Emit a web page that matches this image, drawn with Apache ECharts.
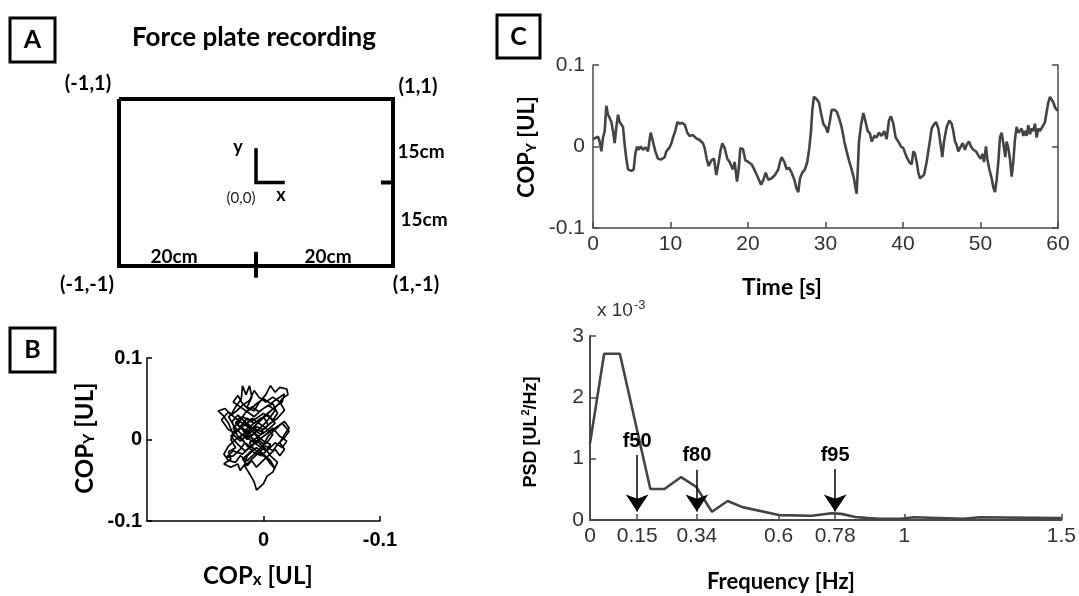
<!DOCTYPE html>
<html><head><meta charset="utf-8">
<script src="https://cdn.jsdelivr.net/npm/echarts@6/dist/echarts.min.js"></script>
<style>html,body{margin:0;padding:0;background:#fff}#c{width:1079px;height:596px}</style>
</head><body><div id="c"></div>
<script>
// ---------- Panel A: force plate diagram (normalised plate units) ----------
const plateX = [-1, 1, 1, -1, -1];
const plateY = [1, 1, -1, -1, 1];
const plateTickRightX = [0.912, 1.08];
const plateTickRightY = [0, 0];
const plateTickBottomX = [0, 0];
const plateTickBottomY = [-0.83, -1.14];
const originAxesX = [0, 0, 0.21];
const originAxesY = [0.41, 0, 0];

// ---------- Panel B: COP trajectory ----------
const copX = [0.010,0.015,0.008,0.018,0.022,0.012,0.020,0.026,0.030,0.035,
  0.039,0.033,0.028,0.024,0.019,0.018,0.015,0.012,0.010,0.014,
  0.008,0.004,-0.002,-0.006,-0.010,-0.014,-0.020,-0.021,-0.016,-0.012,
  -0.006,0.000,-0.004,0.002,0.010,0.016,0.022,0.027,0.024,0.028,
  0.024,0.030,0.028,0.034,0.028,0.022,0.020,0.016,0.014,0.008,
  0.012,0.006,0.000,-0.004,-0.010,-0.016,-0.022,-0.018,-0.012,-0.008,
  -0.002,0.004,0.010,0.016,0.012,0.008,0.006,0.000,-0.003,-0.008,
  -0.012,-0.006,-0.002,0.004,0.010,0.016,0.020,0.014,0.008,0.002,
  -0.004,-0.008,-0.012,-0.008,-0.002,0.004,0.010,0.016,0.020,0.026,
  0.022,0.016,0.020,0.026,0.032,0.026,0.018,0.012,0.006,-0.002,
  -0.008,-0.014,-0.020,-0.016,-0.010,-0.004,0.002,0.008,0.014,0.018,
  0.012,0.006,0.000,-0.006,-0.012,-0.018,-0.014,-0.008,-0.002,0.004,
  0.008,0.012,0.018,0.024,0.030,0.026,0.020,0.014,0.008,0.004,
  0.010,0.016,0.022,0.028,0.022,0.016,0.010,0.004,-0.002,-0.008,
  -0.004,0.002,0.008,0.014,0.020,0.024,0.030,0.034,0.030,0.024,
  0.018,0.012,0.006,0.000,-0.006,-0.010,-0.004,0.002,0.008,0.014,
  0.020,0.026,0.022,0.018,0.012,0.006,0.000,-0.006,-0.012,-0.018,
  -0.016,-0.010,-0.004,0.002,0.008,0.014,0.020,0.016,0.010,0.004,
  -0.002,-0.006,-0.010,-0.006,0.000,0.006,0.012,0.018,0.014,0.010,
  0.006,0.002,-0.004,-0.010,-0.014,-0.018,-0.014,-0.018,-0.022,-0.018,
  -0.012,-0.006,0.000,0.006,0.012,0.018,0.024,0.020,0.014,0.008,
  0.002,-0.004,-0.010,-0.006,0.000,0.006,0.012,0.018,0.024,0.030,
  0.036,0.030,0.024,0.018,0.012,0.006,0.000,-0.006,-0.002,0.004,
  0.010,0.016,0.010,0.004,0.000];
const copY = [0.005,0.012,0.020,0.028,0.018,0.008,-0.002,0.006,0.020,0.030,
  0.035,0.038,0.030,0.040,0.050,0.066,0.055,0.066,0.052,0.040,
  0.035,0.045,0.055,0.066,0.058,0.064,0.062,0.055,0.050,0.042,
  0.035,0.028,0.018,0.010,0.015,0.022,0.030,0.022,0.010,0.000,
  -0.010,-0.015,-0.024,-0.030,-0.034,-0.030,-0.038,-0.030,-0.020,-0.012,
  -0.004,0.002,-0.006,0.004,0.012,0.020,0.010,0.002,-0.006,-0.014,
  -0.008,-0.016,-0.024,-0.033,-0.042,-0.052,-0.062,-0.054,-0.045,-0.040,
  -0.028,-0.020,-0.012,-0.004,0.002,0.008,0.016,0.026,0.020,0.026,
  0.030,0.024,0.032,0.044,0.040,0.034,0.040,0.032,0.024,0.014,
  0.004,-0.004,-0.012,-0.020,-0.022,-0.014,-0.018,-0.010,-0.002,0.006,
  0.014,0.004,-0.002,-0.010,-0.004,-0.012,-0.020,-0.016,-0.008,0.000,
  0.010,0.016,0.012,0.020,0.026,0.036,0.046,0.052,0.046,0.052,
  0.060,0.048,0.042,0.034,0.028,0.018,0.008,0.000,0.008,0.000,
  -0.008,-0.014,-0.006,0.004,0.012,0.018,0.026,0.020,0.014,0.006,
  -0.002,-0.010,-0.018,-0.026,-0.020,-0.028,-0.026,-0.018,-0.008,0.000,
  0.006,0.002,0.010,0.018,0.028,0.036,0.042,0.036,0.028,0.034,
  0.040,0.046,0.054,0.044,0.036,0.044,0.050,0.044,0.050,0.056,
  0.046,0.040,0.032,0.024,0.016,0.010,0.004,-0.004,-0.010,-0.016,
  -0.022,-0.030,-0.036,-0.026,-0.018,-0.010,-0.016,-0.024,-0.032,-0.026,
  -0.034,-0.028,-0.020,-0.012,-0.020,-0.012,-0.004,0.006,0.014,0.022,
  0.016,0.010,0.004,-0.004,0.004,0.012,0.020,0.028,0.018,0.012,
  0.006,0.012,0.020,0.026,0.032,0.026,0.022,0.016,0.008,0.012,
  0.024,0.034,0.026,0.020,0.014,0.006,-0.002,-0.006,-0.014,-0.008,
  -0.002,0.004,0.010,0.004,0.010];

// ---------- Panel C (top): COPy time series ----------
const timeS = [0,0.22,0.65,0.86,1.08,1.29,1.51,1.72,1.94,2.15,2.37,2.58,2.80,3.01,3.23,3.44,3.66,3.87,4.09,4.30,
  4.52,4.95,5.25,5.46,5.68,5.89,6.15,6.45,6.75,7.10,7.31,7.44,7.74,8.04,8.39,8.82,9.25,9.46,9.68,9.89,
  10.11,10.32,10.62,10.88,11.18,11.48,11.83,12.17,12.47,12.90,13.33,13.76,14.19,14.41,14.67,14.92,15.27,15.61,15.91,16.22,
  16.47,16.69,16.99,17.33,17.63,17.85,18.06,18.28,18.58,18.80,19.01,19.35,19.66,
  20.04,20.47,20.90,21.33,21.68,21.98,22.28,22.62,23.05,23.48,23.91,24.13,24.34,24.69,24.99,25.29,25.63,25.98,26.28,26.49,
  26.71,27.01,27.35,27.65,27.91,28.13,28.30,28.51,28.86,29.16,29.42,29.72,30.02,30.28,30.58,30.79,31.14,31.44,31.74,32.08,
  32.43,32.73,33.03,33.37,33.67,33.89,34.02,34.15,34.32,34.58,34.88,35.18,35.44,35.74,35.95,36.30,36.60,36.90,37.24,37.59,
  37.89,38.19,38.45,38.75,39.05,39.40,39.74,40.04,
  40.26,40.47,40.81,41.12,41.33,41.55,41.76,41.98,42.19,42.41,42.71,43.05,43.39,43.70,43.91,44.26,44.56,44.86,45.07,45.29,
  45.63,45.98,46.28,46.49,46.71,46.92,47.14,47.35,47.70,48.00,48.21,48.51,48.77,49.07,49.42,49.72,50.02,50.28,50.45,50.71,
  50.88,51.14,51.44,51.65,51.87,52.08,52.30,52.51,52.73,52.94,53.20,53.37,53.59,53.80,54.02,54.23,54.45,54.66,54.88,55.09,
  55.31,55.52,55.74,55.95,56.17,56.38,56.60,56.81,57.03,57.24,57.46,57.67,57.89,58.10,58.32,58.54,58.75,58.97,59.18,59.40,
  59.61,59.83,60];
const copYSeries = [0.009,0.007,0.012,0.006,-0.006,0.011,0.019,0.050,0.039,0.035,0.030,0.019,0.004,0.024,0.039,0.030,0.028,0.024,0.002,-0.015,
  -0.028,-0.030,-0.028,-0.009,0.000,-0.004,0.000,-0.004,-0.001,-0.006,0.009,0.017,0.006,-0.006,-0.015,-0.016,-0.013,-0.006,-0.007,-0.001,
  0.004,0.011,0.019,0.030,0.028,0.029,0.027,0.017,0.013,0.014,0.010,0.008,0.004,-0.002,-0.015,-0.024,-0.017,-0.015,-0.035,-0.019,
  -0.004,0.004,-0.002,-0.015,-0.019,-0.024,-0.028,-0.019,-0.043,-0.028,-0.002,-0.003,-0.017,
  -0.019,-0.022,-0.030,-0.039,-0.047,-0.041,-0.032,-0.041,-0.039,-0.035,-0.028,-0.019,-0.013,-0.019,-0.028,-0.026,-0.032,-0.041,-0.052,-0.056,
  -0.039,-0.032,-0.028,-0.019,-0.002,0.019,0.045,0.061,0.058,0.054,0.041,0.028,0.024,0.017,0.032,0.045,0.045,0.043,0.035,0.024,
  0.006,-0.006,-0.017,-0.028,-0.039,-0.052,-0.058,-0.032,0.006,0.026,0.041,0.030,0.019,0.016,0.006,0.013,0.011,0.017,0.013,0.019,
  0.009,0.032,0.037,0.028,0.011,0.006,0.000,-0.002,
  -0.004,-0.013,-0.019,-0.022,-0.006,-0.009,-0.019,-0.032,-0.039,-0.041,-0.035,-0.019,0.002,0.022,0.026,0.030,0.022,0.002,-0.013,0.006,
  0.024,0.032,0.028,0.019,0.006,0.002,-0.006,-0.002,0.004,-0.004,0.002,0.006,0.000,-0.004,-0.006,-0.011,-0.015,-0.009,-0.019,0.000,
  -0.015,-0.028,-0.039,-0.050,-0.056,-0.041,-0.019,0.011,0.017,0.004,-0.013,0.006,-0.002,-0.015,-0.037,-0.019,0.009,0.024,0.017,0.015,
  0.022,0.013,0.019,0.013,0.026,0.015,0.022,0.019,0.028,0.011,0.022,0.019,0.019,0.026,0.030,0.043,0.054,0.061,0.063,0.054,
  0.048,0.045,0.045];

// ---------- Panel C (bottom): PSD (x 10^-3 UL^2/Hz) ----------
const psdFreq = [0, 0.045, 0.095, 0.192, 0.237, 0.29, 0.338, 0.388, 0.438, 0.485, 0.601, 0.706, 0.769, 0.80, 0.844, 0.886, 0.918,
  0.99, 0.995, 1.03, 1.035, 1.19, 1.195, 1.24, 1.245, 1.5];
const psdVal = [1.25, 2.71, 2.71, 0.505, 0.505, 0.70, 0.54, 0.135, 0.31, 0.21, 0.08, 0.07, 0.11, 0.10, 0.05, 0.03, 0.02,
  0.02, 0.045, 0.045, 0.02, 0.02, 0.045, 0.045, 0.025, 0.03];
const freqTicks = [0, 0.15, 0.34, 0.6, 0.78, 1, 1.5];
const arrowLabels = ['f50', 'f80', 'f95'];
const arrowFreq = [0.15, 0.34, 0.78];
const arrowTop = [1.06, 0.82, 0.83];
const arrowTip = [0.14, 0.14, 0.14];

const zip = (xs, ys) => xs.map((x, i) => [x, ys[i]]);

const SANS = '"Liberation Sans", Arial, sans-serif';
const TITLE = 'Lato, "Open Sans", sans-serif';
const cAxisColor = '#4a4a4a';

function hiddenAxis(extra) {
  return Object.assign({ type: 'value', show: false, splitLine: { show: false } }, extra);
}
function txt(x, y, text, font, fill) {
  return { type: 'text', x: x, y: y, style: { text: text, font: font, align: 'center', verticalAlign: 'middle', fill: fill || '#000' } };
}

const option = {
  animation: false,
  backgroundColor: '#fff',
  textStyle: { fontFamily: SANS },
  grid: [
    { left: 119, top: 99, width: 274, height: 167 },   // A
    { left: 147, top: 358, width: 233, height: 163 },  // B
    { left: 593, top: 65, width: 465, height: 163 },   // C top
    { left: 590, top: 336, width: 474, height: 184 }   // C bottom
  ],
  xAxis: [
    hiddenAxis({ gridIndex: 0, min: -1, max: 1 }),
    {
      type: 'value', gridIndex: 1, min: -0.1, max: 0.1, interval: 0.1, inverse: true,
      splitLine: { show: false },
      axisLine: { show: true, onZero: false, lineStyle: { color: '#000', width: 1.5 } },
      axisTick: { show: true, inside: true, length: 5, lineStyle: { color: '#000', width: 1.5 } },
      axisLabel: { showMaxLabel: false, margin: 9, color: '#000', fontWeight: 'bold', fontSize: 20, fontFamily: SANS }
    },
    {
      type: 'value', gridIndex: 2, min: 0, max: 60, interval: 10,
      splitLine: { show: false },
      axisLine: { show: true, onZero: false, lineStyle: { color: cAxisColor, width: 1.5 } },
      axisTick: { show: true, inside: true, length: 6, lineStyle: { color: cAxisColor, width: 1.5 } },
      axisLabel: { margin: 6, color: '#333', fontSize: 21, fontFamily: SANS }
    },
    {
      type: 'value', gridIndex: 3, min: 0, max: 1.5,
      splitLine: { show: false },
      axisLine: { show: true, onZero: false, lineStyle: { color: cAxisColor, width: 2 } },
      axisTick: { show: true, inside: true, length: 6, customValues: freqTicks, lineStyle: { color: cAxisColor, width: 1.5 } },
      axisLabel: { margin: 6, color: '#333', fontSize: 21, fontFamily: SANS, customValues: freqTicks }
    }
  ],
  yAxis: [
    hiddenAxis({ gridIndex: 0, min: -1, max: 1 }),
    {
      type: 'value', gridIndex: 1, min: -0.1, max: 0.1, interval: 0.1,
      splitLine: { show: false },
      axisLine: { show: true, onZero: false, lineStyle: { color: '#000', width: 1.5 } },
      axisTick: { show: true, inside: true, length: 5, lineStyle: { color: '#000', width: 1.5 } },
      axisLabel: { margin: 5, color: '#000', fontWeight: 'bold', fontSize: 20, fontFamily: SANS }
    },
    {
      type: 'value', gridIndex: 2, min: -0.1, max: 0.1, interval: 0.1,
      splitLine: { show: false },
      axisLine: { show: true, onZero: false, lineStyle: { color: cAxisColor, width: 1.5 } },
      axisTick: { show: true, inside: true, length: 6, lineStyle: { color: cAxisColor, width: 1.5 } },
      axisLabel: { margin: 8, color: '#333', fontSize: 21, fontFamily: SANS }
    },
    {
      type: 'value', gridIndex: 2, position: 'right', min: -0.1, max: 0.1, interval: 0.1,
      splitLine: { show: false },
      axisLine: { show: true, onZero: false, lineStyle: { color: cAxisColor, width: 1.5 } },
      axisTick: { show: true, inside: true, length: 6, lineStyle: { color: cAxisColor, width: 1.5 } },
      axisLabel: { show: false }
    },
    {
      type: 'value', gridIndex: 3, min: 0, max: 3, interval: 1,
      splitLine: { show: false },
      axisLine: { show: true, onZero: false, lineStyle: { color: cAxisColor, width: 2 } },
      axisTick: { show: true, inside: true, length: 6, lineStyle: { color: cAxisColor, width: 1.5 } },
      axisLabel: { margin: 6, color: '#333', fontSize: 21, fontFamily: SANS }
    }
  ],
  series: [
    { type: 'line', xAxisIndex: 0, yAxisIndex: 0, data: zip(plateX, plateY), symbol: 'none', clip: false,
      lineStyle: { color: '#000', width: 4, join: 'miter' } },
    { type: 'line', xAxisIndex: 0, yAxisIndex: 0, data: zip(plateTickRightX, plateTickRightY), symbol: 'none', clip: false,
      lineStyle: { color: '#000', width: 4 } },
    { type: 'line', xAxisIndex: 0, yAxisIndex: 0, data: zip(plateTickBottomX, plateTickBottomY), symbol: 'none', clip: false,
      lineStyle: { color: '#000', width: 4 } },
    { type: 'line', xAxisIndex: 0, yAxisIndex: 0, data: zip(originAxesX, originAxesY), symbol: 'none', clip: false,
      lineStyle: { color: '#000', width: 3.5, join: 'miter' } },
    { type: 'line', xAxisIndex: 1, yAxisIndex: 1, data: zip(copX, copY), symbol: 'none',
      lineStyle: { color: '#000', width: 1.7 } },
    { type: 'line', xAxisIndex: 2, yAxisIndex: 2, data: zip(timeS, copYSeries), symbol: 'none',
      lineStyle: { color: '#444', width: 2.6 } },
    { type: 'line', xAxisIndex: 3, yAxisIndex: 4, data: zip(psdFreq, psdVal), symbol: 'none',
      lineStyle: { color: '#444', width: 2.6 },
      markLine: {
        silent: true, animation: false,
        symbol: ['none', 'arrow'], symbolSize: 17,
        lineStyle: { color: '#000', width: 1.5, type: 'solid' },
        label: { show: true, position: 'start', distance: 4, color: '#000', fontSize: 20, fontWeight: 'bold', fontFamily: SANS },
        data: arrowFreq.map((f, i) => [
          { coord: [f, arrowTop[i]], symbol: 'none', label: { formatter: arrowLabels[i] } },
          { coord: [f, arrowTip[i]], symbol: 'arrow', symbolSize: 17 }
        ])
      } }
  ],
  graphic: [
    // panel boxes
    { type: 'rect', shape: { x: 10, y: 18, width: 45, height: 44 }, style: { fill: 'none', stroke: '#000', lineWidth: 3 } },
    txt(32.5, 40, 'A', 'bold 25px ' + TITLE),
    { type: 'rect', shape: { x: 10, y: 328, width: 45, height: 44 }, style: { fill: 'none', stroke: '#000', lineWidth: 3 } },
    txt(32.5, 350, 'B', 'bold 25px ' + TITLE),
    { type: 'rect', shape: { x: 497, y: 15, width: 43, height: 43 }, style: { fill: 'none', stroke: '#000', lineWidth: 3 } },
    txt(518.5, 37, 'C', 'bold 25px ' + TITLE),
    // panel A labels
    txt(254, 38, 'Force plate recording', 'bold 26px ' + TITLE),
    txt(88, 84, '(-1,1)', 'bold 20px ' + TITLE),
    txt(418, 87, '(1,1)', 'bold 20px ' + TITLE),
    txt(87, 285, '(-1,-1)', 'bold 20px ' + TITLE),
    txt(416, 285, '(1,-1)', 'bold 20px ' + TITLE),
    txt(421, 152, '15cm', 'bold 19px ' + TITLE),
    txt(424, 220, '15cm', 'bold 19px ' + TITLE),
    txt(174, 257, '20cm', 'bold 19px ' + TITLE),
    txt(328, 257, '20cm', 'bold 19px ' + TITLE),
    txt(238, 147, 'y', 'bold 18px ' + TITLE),
    txt(281, 195, 'x', 'bold 18px ' + TITLE),
    txt(241, 198, '(0,0)', '15px ' + TITLE, '#222'),
    // panel B axis titles
    { type: 'text', x: 85, y: 438, rotation: Math.PI / 2, style: {
        text: '{m|COP}{s|Y}{m| [UL]}', align: 'center', verticalAlign: 'middle',
        rich: { m: { font: 'bold 24px ' + TITLE, fill: '#000', lineHeight: 28 }, s: { font: 'bold 16px ' + TITLE, fill: '#000', lineHeight: 28, verticalAlign: 'bottom', padding: [0, 0, 2, 0] } } } },
    { type: 'text', x: 258, y: 576, style: {
        text: '{m|COP}{s|x}{m| [UL]}', align: 'center', verticalAlign: 'middle',
        rich: { m: { font: 'bold 24px ' + TITLE, fill: '#000', lineHeight: 28 }, s: { font: 'bold 17px ' + TITLE, fill: '#000', lineHeight: 28, verticalAlign: 'bottom', padding: [0, 0, 2, 0] } } } },
    // panel C axis titles
    { type: 'text', x: 527, y: 147, rotation: Math.PI / 2, style: {
        text: '{m|COP}{s|Y}{m| [UL]}', align: 'center', verticalAlign: 'middle',
        rich: { m: { font: 'bold 22px ' + TITLE, fill: '#000', lineHeight: 26 }, s: { font: 'bold 14px ' + TITLE, fill: '#000', lineHeight: 26, verticalAlign: 'bottom', padding: [0, 0, 2, 0] } } } },
    txt(782, 288, 'Time [s]', 'bold 23px ' + TITLE),
    { type: 'text', x: 597, y: 311, style: {
        text: '{a|x 10}{b|-3}', align: 'left', verticalAlign: 'middle',
        rich: { a: { font: '19px ' + SANS, fill: '#333', lineHeight: 24 }, b: { font: '13px ' + SANS, fill: '#333', lineHeight: 24, verticalAlign: 'top', padding: [0, 0, 0, 1] } } } },
    { type: 'text', x: 531, y: 432, rotation: Math.PI / 2, style: {
        text: '{a|PSD [UL}{b|2}{a|/Hz]}', align: 'center', verticalAlign: 'middle',
        rich: { a: { font: 'bold 18px ' + SANS, fill: '#000', lineHeight: 22 }, b: { font: 'bold 11px ' + SANS, fill: '#000', lineHeight: 22, verticalAlign: 'top' } } } },
    txt(781, 582, 'Frequency [Hz]', 'bold 22px ' + TITLE)
  ]
};

const chart = echarts.init(document.getElementById('c'), null, { renderer: 'canvas' });
chart.setOption(option);
</script></body></html>
